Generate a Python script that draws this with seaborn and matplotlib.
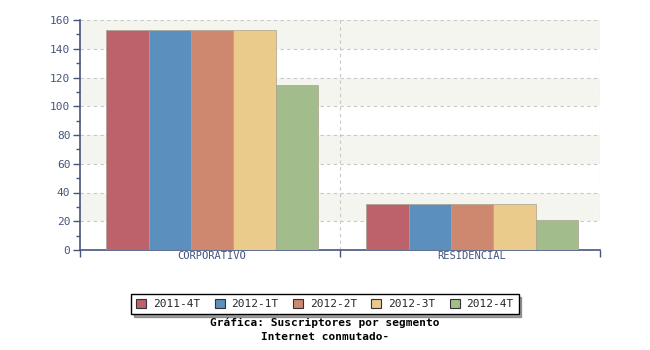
import matplotlib
matplotlib.use("Agg")
import matplotlib.pyplot as plt
import seaborn as sns
import pandas as pd
from matplotlib.ticker import MultipleLocator
from matplotlib.patches import Patch

categories = ["CORPORATIVO", "RESIDENCIAL"]
periods = ["2011-4T", "2012-1T", "2012-2T", "2012-3T", "2012-4T"]
values_2011_4T = [153, 32]
values_2012_1T = [153, 32]
values_2012_2T = [153, 32]
values_2012_3T = [153, 32]
values_2012_4T = [115, 21]
colors = ["#BD616A", "#5B8FBE", "#CE8870", "#EACB8B", "#A3BC8B"]

series = [values_2011_4T, values_2012_1T, values_2012_2T, values_2012_3T, values_2012_4T]
rows = []
for p, vals in zip(periods, series):
    for c, v in zip(categories, vals):
        rows.append({"segmento": c, "periodo": p, "valor": v})
df = pd.DataFrame(rows)

sns.set_theme(style="white")
plt.rcParams['font.family'] = ['DejaVu Sans Mono', 'DejaVu Sans']
axis_col = "#46557d"

fig = plt.figure(figsize=(6.5, 3.5), dpi=100)
ax = fig.add_axes([80/650, 100/350, 520/650, 230/350])

ax.set_xlim(-0.5, 1.5)
ax.set_ylim(0, 160)
for lo in range(0, 160, 20):
    if (lo // 20) % 2 == 1:
        ax.axhspan(lo, lo + 20, color="#f5f5f0", zorder=0, lw=0)

sns.barplot(data=df, x="segmento", y="valor", hue="periodo", hue_order=periods,
            order=categories, palette=colors, width=0.815, ax=ax, saturation=1,
            edgecolor="#a8a290", linewidth=0.5, legend=False, zorder=3)

ax.set_xlim(-0.508, 1.492)
ax.set_ylim(0, 160)
ax.set_xlabel("")
ax.set_ylabel("")

for y in range(20, 161, 20):
    ax.axhline(y, color="#c8c8c8", ls=(0, (3, 3)), lw=0.8, zorder=1)
for x in [0.492, 1.492]:
    ax.axvline(x, color="#c8c8c8", ls=(0, (3, 3)), lw=0.8, zorder=1)

for s in ["top", "right"]:
    ax.spines[s].set_visible(False)
for s in ["left", "bottom"]:
    ax.spines[s].set_color(axis_col)
    ax.spines[s].set_linewidth(1.2)

ax.yaxis.set_major_locator(MultipleLocator(20))
ax.yaxis.set_minor_locator(MultipleLocator(10))
ax.tick_params(axis="y", which="major", direction="out", length=5, width=1, color=axis_col,
               labelcolor=axis_col, labelsize=8, left=True, pad=2)
ax.tick_params(axis="y", which="minor", direction="out", length=3, width=1, color=axis_col, left=True)
ax.set_xticks([0, 1])
ax.set_xticklabels(categories)
ax.tick_params(axis="x", which="major", length=0, labelcolor=axis_col, labelsize=7.5, pad=1)
ax.set_xticks([-0.508, 0.492, 1.492], minor=True)
ax.tick_params(axis="x", which="minor", direction="out", length=5, width=1, color=axis_col, bottom=True)

handles = [Patch(facecolor=c, edgecolor="#333333", lw=0.8) for c in colors]
leg = fig.legend(handles, periods, loc="center", bbox_to_anchor=(325/650, 1 - 304/350),
                 ncol=5, frameon=True, fancybox=False, shadow=True, fontsize=8,
                 handlelength=0.9, handleheight=0.9, columnspacing=1.3, handletextpad=0.6,
                 borderpad=0.45)
leg.get_frame().set_edgecolor("#000000")
leg.get_frame().set_linewidth(1)

fig.text(325/650, 1 - 323/350, "Gráfica: Suscriptores por segmento", ha="center", va="center",
         fontsize=8, fontweight="bold", color="#000000")
fig.text(325/650, 1 - 337/350, "Internet conmutado-", ha="center", va="center",
         fontsize=8, fontweight="bold", color="#000000")

fig.savefig("out.png", dpi=100)
